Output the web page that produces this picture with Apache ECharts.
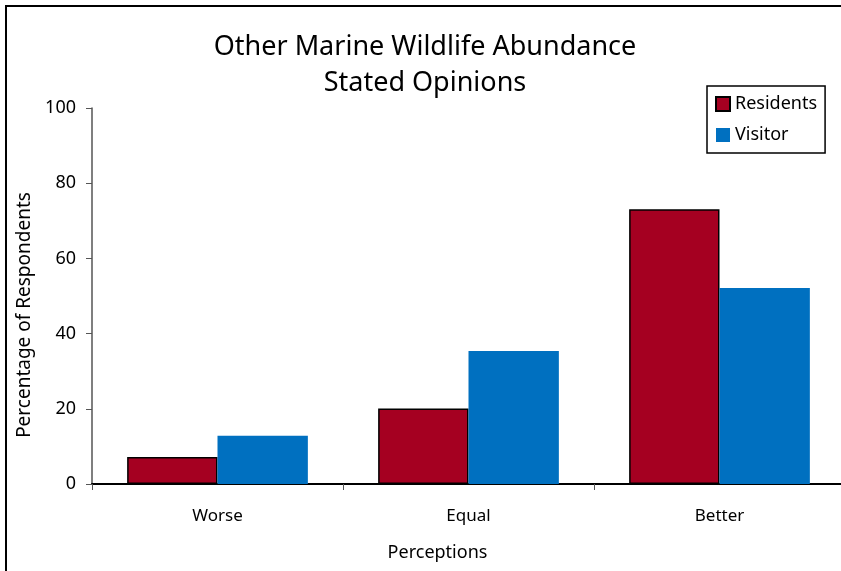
<!DOCTYPE html>
<html>
<head>
<meta charset="utf-8">
<script src="https://cdn.jsdelivr.net/npm/echarts@6/dist/echarts.min.js"></script>
<style>
  html, body { margin: 0; padding: 0; background: #fff; overflow: hidden; }
  /* canvas runs a few pixels past the right edge so the plot can bleed off it */
  #chart { width: 850px; height: 571px; }
</style>
</head>
<body>
<div id="chart"></div>
<script>
// Survey answers: perceived abundance of other marine wildlife
const categories = ['Worse', 'Equal', 'Better'];
const residents = [7.2, 20.1, 73.1];
const visitors = [12.8, 35.4, 52.1];
const yTicks = [0, 20, 40, 60, 80, 100];

const FONT = '"Noto Sans", "DejaVu Sans", sans-serif';
const chart = echarts.init(document.getElementById('chart'));

chart.setOption({
  animation: false,
  backgroundColor: '#ffffff',
  title: {
    text: 'Other Marine Wildlife Abundance\nStated Opinions',
    left: 420,
    textAlign: 'center',
    top: 24,
    textStyle: {
      fontFamily: FONT,
      fontSize: 27,
      fontWeight: 'normal',
      color: '#000',
      lineHeight: 36
    }
  },
  legend: {
    orient: 'vertical',
    left: 707,
    top: 86,
    padding: [9, 8, 9, 8],
    itemGap: 13,
    itemWidth: 14,
    itemHeight: 14,
    icon: 'rect',
    borderColor: '#000',
    borderWidth: 1.5,
    textStyle: { fontFamily: FONT, fontSize: 18, color: '#000' },
    data: ['Residents', 'Visitor']
  },
  grid: { left: 92, width: 753, top: 108, bottom: 87, containLabel: false },
  xAxis: {
    type: 'category',
    data: categories,
    name: 'Perceptions',
    nameLocation: 'middle',
    nameGap: 60,
    nameTextStyle: { fontFamily: FONT, fontSize: 18, color: '#000', padding: [0, 62, 0, 0] },
    axisLine: { lineStyle: { color: '#000', width: 2 } },
    axisTick: { show: true, length: 6, lineStyle: { color: '#555' } },
    axisLabel: { fontFamily: FONT, fontSize: 17, color: '#000', margin: 24 }
  },
  yAxis: {
    type: 'value',
    min: yTicks[0],
    max: yTicks[yTicks.length - 1],
    interval: 20,
    name: 'Percentage of Respondents',
    nameLocation: 'middle',
    nameGap: 56,
    nameTextStyle: { fontFamily: FONT, fontSize: 19, color: '#000', padding: [0, 38, 0, 0] },
    axisLine: { show: true, lineStyle: { color: '#555', width: 1.5 } },
    axisTick: { show: true, length: 6, lineStyle: { color: '#555' } },
    splitLine: { show: false },
    axisLabel: { fontFamily: FONT, fontSize: 18, color: '#000', margin: 16 }
  },
  series: [
    {
      name: 'Residents',
      type: 'bar',
      data: residents,
      barGap: '0%',
      barCategoryGap: '28%',
      itemStyle: { color: '#A50021', borderColor: '#000', borderWidth: 1.5 }
    },
    {
      name: 'Visitor',
      type: 'bar',
      data: visitors,
      itemStyle: { color: '#0070C0' }
    }
  ],
  graphic: [
    {
      type: 'rect',
      shape: { x: 6, y: 6, width: 1000, height: 1000 },
      style: { fill: 'none', stroke: '#000', lineWidth: 2 },
      silent: true
    }
  ]
});
</script>
</body>
</html>
